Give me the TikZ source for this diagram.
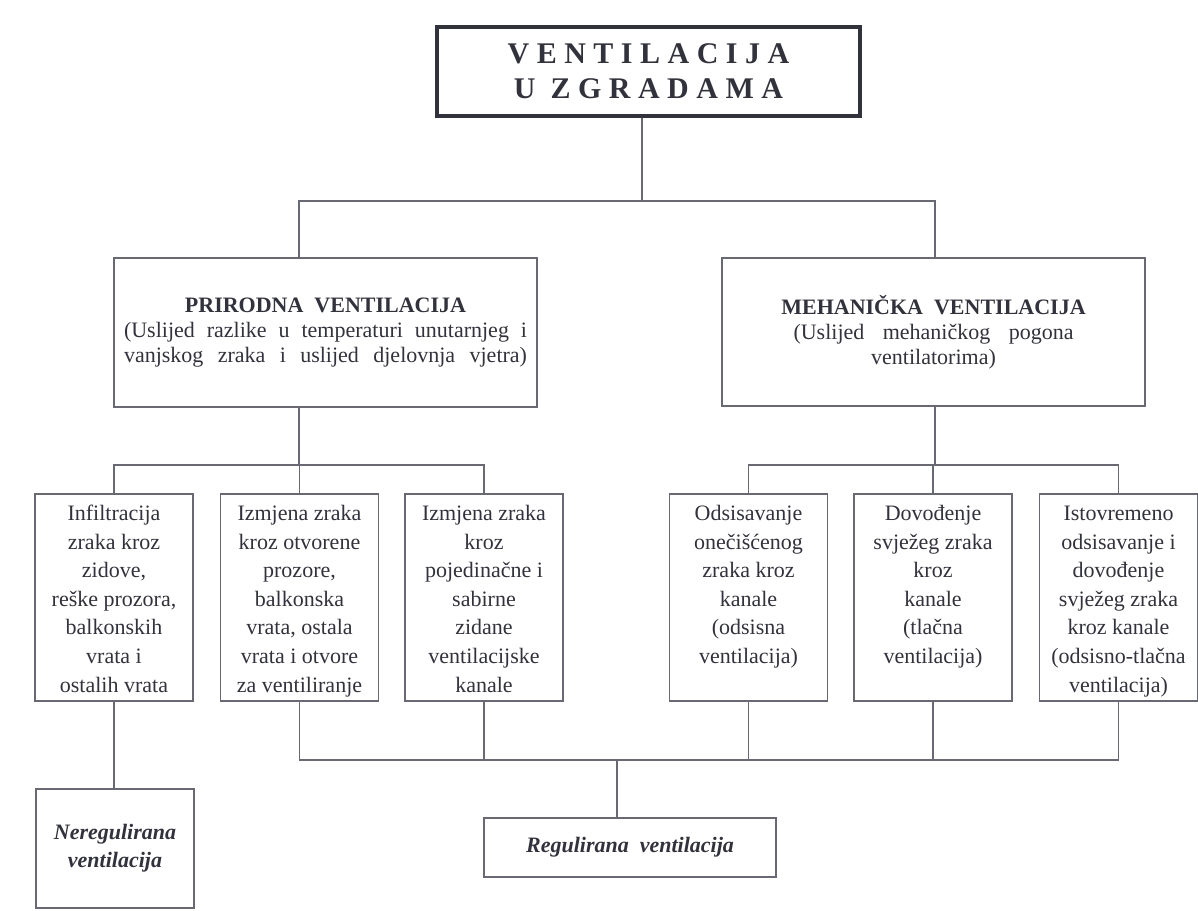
\documentclass[tikz,border=0pt]{standalone}
\usepackage{fontspec}
\setmainfont{Liberation Serif}
\definecolor{inkgray}{RGB}{50,50,60}
\definecolor{rulegray}{RGB}{105,105,115}
\newcommand{\cellbox}[1]{\parbox[c][97pt][t]{75pt}{\centering\strut #1}}

\begin{document}
\begin{tikzpicture}[x=0.5pt,y=0.5pt]
	\tikzstyle{every node}+=[inner sep=0pt, text=inkgray]
	\tikzstyle{box}=[draw=rulegray, line width=0.8pt, align=center, font=\fontsize{11}{14.3}\selectfont]
	\tikzstyle{headbox}=[box, minimum width=211.5pt, font=\fontsize{11}{12.4}\selectfont]
	\tikzstyle{cell}=[box, minimum width=79pt, minimum height=103.5pt]
	\tikzstyle{result}=[box, font=\fontsize{11}{14}\selectfont\bfseries\itshape]
	\tikzstyle{titlebox}=[draw=inkgray, line width=1.6pt, align=center, font=\fontsize{15}{17.5}\selectfont\bfseries]
	\tikzstyle{link}=[draw=rulegray, line width=0.8pt]
	\useasboundingbox (0,0) rectangle (1198,-910);
	% title
	\node [titlebox, minimum width=211.5pt, minimum height=44.5pt] (top) at (648.5,-71.5) {V E N T I L A C I J A\\U\ \ Z G R A D A M A};
	% second level
	\node [headbox, minimum height=74.5pt] (prir) at (325.5,-332.5) {\textbf{PRIRODNA\ \ VENTILACIJA}\\
		\makebox[201.5pt][s]{(Uslijed razlike u temperaturi unutarnjeg i}\\
		\makebox[201.5pt][s]{vanjskog zraka i uslijed djelovnja vjetra)}};
	\node [headbox, minimum height=74pt] (meh) at (933.5,-332) {\textbf{MEHANIČKA\ \ VENTILACIJA}\\
		\makebox[140pt][s]{(Uslijed mehaničkog pogona}\\
		ventilatorima)};
	% third level
	\node [cell] (inf) at (114,-597.5) {\cellbox{Infiltracija\\zraka kroz\\zidove,\\reške prozora,\\balkonskih\\vrata i\\ostalih vrata}};
	\node [cell] (izm1) at (299.5,-597.5) {\cellbox{Izmjena zraka\\kroz otvorene\\prozore,\\balkonska\\vrata, ostala\\vrata i otvore\\za ventiliranje}};
	\node [cell] (izm2) at (484,-597.5) {\cellbox{Izmjena zraka\\kroz\\pojedinačne i\\sabirne\\zidane\\ventilacijske\\kanale}};
	\node [cell] (ods) at (748.5,-597.5) {\cellbox{Odsisavanje\\onečišćenog\\zraka kroz\\kanale\\(odsisna\\ventilacija)}};
	\node [cell] (dov) at (933,-597.5) {\cellbox{Dovođenje\\svježeg zraka\\kroz\\kanale\\(tlačna\\ventilacija)}};
	\node [cell] (ist) at (1118.5,-597.5) {\cellbox{Istovremeno\\odsisavanje i\\dovođenje\\svježeg zraka\\kroz kanale\\(odsisno-tlačna\\ventilacija)}};
	% results
	\node [result, minimum width=79pt, minimum height=59.5pt] (nereg) at (115,-848.5) {Neregulirana\\ventilacija};
	\node [result, minimum width=146pt, minimum height=29.5pt] (reg) at (630,-847.5) {Regulirana\ \ ventilacija};
	% junctions
	\coordinate (jTop) at (642,-201);
	\coordinate (jPri) at (299,-465);
	\coordinate (jMeh) at (935,-465);
	\coordinate (jReg) at (617,-760);
	% connectors
	\draw [link] (top.south -| jTop) -- (jTop);
	\draw [link] (prir.north -| jPri) |- (jTop) -| (meh.north -| jMeh);
	\draw [link] (prir.south -| jPri) -- (jPri);
	\draw [link] (inf.north) |- (jPri) -| (izm2.north);
	\draw [link] (izm1.north) -- (izm1.north |- jPri);
	\draw [link] (meh.south -| jMeh) -- (jMeh);
	\draw [link] (ods.north) |- (jMeh) -| (ist.north);
	\draw [link] (dov.north) -- (dov.north |- jMeh);
	\draw [link] (inf.south) -- (nereg.north -| inf.south);
	\draw [link] (izm1.south) |- (jReg) -| (ist.south);
	\draw [link] (izm2.south) -- (izm2.south |- jReg);
	\draw [link] (ods.south) -- (ods.south |- jReg);
	\draw [link] (dov.south) -- (dov.south |- jReg);
	\draw [link] (jReg) -- (reg.north -| jReg);
\end{tikzpicture}
\end{document}
